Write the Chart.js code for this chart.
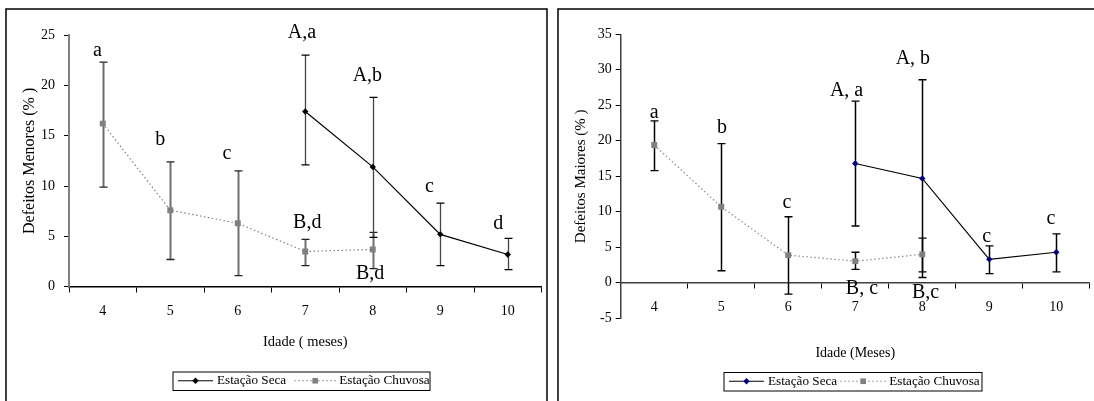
<!DOCTYPE html>
<html>
<head>
<meta charset="utf-8">
<script src="https://cdn.jsdelivr.net/npm/chart.js@4.4.1/dist/chart.umd.min.js"></script>
<style>
  html, body { margin: 0; padding: 0; background: #fff; }
  body { width: 1094px; height: 401px; position: relative; overflow: hidden; }
  canvas { position: absolute; top: 0; }
  #cMenores { left: 0; }
  #cMaiores { left: 552px; }
</style>
</head>
<body>
<canvas id="cMenores" width="552" height="401"></canvas>
<canvas id="cMaiores" width="542" height="401"></canvas>
<script>
const meses = ['4', '5', '6', '7', '8', '9', '10'];

// Defeitos menores (%) - media e barras de erro
const menoresChuvosa    = [16.2, 7.6, 6.3, 3.5, 3.7, null, null];
const menoresChuvosaMin = [9.9, 2.7, 1.1, 2.1, 1.8, null, null];
const menoresChuvosaMax = [22.3, 12.4, 11.5, 4.7, 5.4, null, null];
const menoresSeca       = [null, null, null, 17.4, 11.9, 5.2, 3.2];
const menoresSecaMin    = [null, null, null, 12.1, 4.9, 2.1, 1.7];
const menoresSecaMax    = [null, null, null, 23.0, 18.8, 8.3, 4.8];
const menoresLetrasChuvosa = ['a', 'b', 'c', 'B,d', 'B,d', null, null];
const menoresLetrasSeca    = [null, null, null, 'A,a', 'A,b', 'c', 'd'];
const menoresEixoY = [0, 25, 5];

// Defeitos maiores (%)
const maioresChuvosa    = [19.4, 10.7, 3.9, 3.05, 4.0, null, null];
const maioresChuvosaMin = [15.8, 1.7, -1.6, 1.9, 1.55, null, null];
const maioresChuvosaMax = [22.8, 19.6, 9.3, 4.3, 6.3, null, null];
const maioresSeca       = [null, null, null, 16.8, 14.7, 3.3, 4.3];
const maioresSecaMin    = [null, null, null, 8.0, 0.75, 1.3, 1.55];
const maioresSecaMax    = [null, null, null, 25.6, 28.6, 5.2, 6.9];
const maioresLetrasChuvosa = ['a', 'b', 'c', 'B, c', 'B,c', null, null];
const maioresLetrasSeca    = [null, null, null, 'A, a', 'A, b', 'c', 'c'];
const maioresEixoY = [-5, 35, 5];

// onde fica cada letra: altura (unidades do eixo y) e desvio em larguras de categoria
const posMenoresChuvosaY  = [23.4, 14.6, 13.25, 6.36, 1.33, null, null];
const posMenoresChuvosaDx = [-0.08, -0.15, -0.16, 0.03, -0.04, 0, 0];
const posMenoresSecaY     = [null, null, null, 25.2, 21.0, 9.93, 6.3];
const posMenoresSecaDx    = [0, 0, 0, -0.05, -0.08, -0.16, -0.14];
const posMaioresChuvosaY  = [23.9, 21.8, 11.3, -0.8, -1.36, null, null];
const posMaioresChuvosaDx = [0, 0.01, -0.02, 0.1, 0.05, 0, 0];
const posMaioresSecaY     = [null, null, null, 27.0, 31.55, 6.47, 9.05];
const posMaioresSecaDx    = [0, 0, 0, -0.13, -0.14, -0.04, -0.08];

const serif = "'Liberation Serif', 'Times New Roman', serif";
Chart.defaults.font.family = serif;

const moldura = {
  id: 'moldura',
  beforeDraw(chart, args, o) {
    const ctx = chart.ctx;
    ctx.save();
    ctx.fillStyle = '#fff';
    ctx.fillRect(0, 0, chart.width, chart.height);
    ctx.strokeStyle = '#000';
    ctx.lineWidth = 1.5;
    ctx.strokeRect(o.x, o.y, o.w, o.h);
    ctx.restore();
  }
};

const barrasErro = {
  id: 'barrasErro',
  beforeDatasetsDraw(chart, args, o) {
    const {ctx, scales: {x, y}} = chart;
    ctx.save();
    o.series.forEach(s => {
      s.min.forEach((lo, i) => {
        const hi = s.max[i];
        if (lo == null || hi == null) return;
        const px = Math.round(x.getPixelForValue(i)) + 0.5;
        const y1 = y.getPixelForValue(lo), y2 = y.getPixelForValue(hi);
        ctx.strokeStyle = s.cor;
        ctx.lineWidth = s.largura;
        ctx.beginPath(); ctx.moveTo(px, y1); ctx.lineTo(px, y2); ctx.stroke();
        ctx.strokeStyle = s.corPonta;
        ctx.lineWidth = 1.3;
        ctx.beginPath();
        ctx.moveTo(px - 4, y1); ctx.lineTo(px + 4, y1);
        ctx.moveTo(px - 4, y2); ctx.lineTo(px + 4, y2);
        ctx.stroke();
      });
    });
    ctx.restore();
  }
};

const letras = {
  id: 'letras',
  afterDatasetsDraw(chart, args, o) {
    const {ctx, scales: {x, y}} = chart;
    const cat = x.getPixelForValue(1) - x.getPixelForValue(0);
    ctx.save();
    ctx.font = '20px ' + serif;
    ctx.fillStyle = '#000';
    ctx.textAlign = 'center';
    ctx.textBaseline = 'middle';
    o.grupos.forEach(g => g.texto.forEach((t, i) => {
      if (!t) return;
      ctx.fillText(t, x.getPixelForValue(i) + g.dx[i] * cat, y.getPixelForValue(g.y[i]));
    }));
    ctx.restore();
  }
};

const legenda = {
  id: 'legenda',
  afterDraw(chart, args, o) {
    const ctx = chart.ctx;
    const [seca, chuvosa] = chart.data.datasets;
    const cy = o.y + o.h / 2;
    ctx.save();
    ctx.strokeStyle = '#000';
    ctx.lineWidth = 1;
    ctx.strokeRect(o.x + 0.5, o.y + 0.5, o.w, o.h);
    ctx.font = '13.2px ' + serif;
    ctx.textBaseline = 'middle';
    let px = o.x + 5.5;
    ctx.lineWidth = 1.2;
    ctx.beginPath(); ctx.moveTo(px, cy); ctx.lineTo(px + 35, cy); ctx.stroke();
    ctx.fillStyle = seca.pointBackgroundColor;
    Chart.helpers.drawPoint(ctx, {pointStyle: 'rectRot', radius: 3.2, rotation: 0, borderWidth: 0}, px + 17.5, cy);
    px += 39;
    ctx.fillStyle = '#000';
    ctx.fillText(seca.label, px, cy);
    px += ctx.measureText(seca.label).width + o.folga;
    ctx.strokeStyle = chuvosa.borderColor;
    ctx.setLineDash(chuvosa.borderDash);
    ctx.beginPath(); ctx.moveTo(px, cy); ctx.lineTo(px + o.tracejado, cy); ctx.stroke();
    ctx.setLineDash([]);
    ctx.fillStyle = chuvosa.pointBackgroundColor;
    Chart.helpers.drawPoint(ctx, {pointStyle: 'rect', radius: 4, rotation: 0, borderWidth: 0}, px + o.tracejado / 2, cy);
    px += o.tracejado + 3;
    ctx.fillStyle = '#000';
    ctx.fillText(chuvosa.label, px, cy);
    ctx.restore();
  }
};

function graficoDefeitos(id, c) {
  return new Chart(document.getElementById(id), {
    type: 'line',
    data: {
      labels: meses,
      datasets: [
        { label: 'Estação Seca', data: c.seca, borderColor: '#000', borderWidth: 1.2,
          pointStyle: 'rectRot', pointRadius: 3.2, pointBackgroundColor: c.corSeca, pointBorderWidth: 0 },
        { label: 'Estação Chuvosa', data: c.chuvosa, borderColor: c.corChuvosa, borderWidth: 1.2,
          borderDash: [1.5, 2.5], pointStyle: 'rect', pointRadius: 4.2,
          pointBackgroundColor: '#808080', pointBorderWidth: 0 }
      ]
    },
    options: {
      responsive: false, animation: false, events: [],
      layout: { padding: c.padding },
      plugins: {
        legend: { display: false },
        tooltip: { enabled: false },
        moldura: c.moldura,
        barrasErro: { series: c.barras },
        letras: { grupos: c.letras },
        legenda: c.legenda
      },
      scales: {
        x: {
          axis: 'x', type: 'category', offset: true, position: { y: 0 },
          grid: { drawOnChartArea: false, offset: true, tickLength: 5, tickColor: '#000', lineWidth: 1 },
          border: { color: c.corEixoX, width: 1.5 },
          ticks: { color: '#000', padding: 11.5, maxRotation: 0, font: { family: serif, size: 14 } },
          title: { display: true, text: c.tituloX, color: '#000', font: { family: serif, size: c.fonteTituloX }, padding: 0 },
          afterFit(s) { s.height = c.alturaX; }
        },
        y: {
          min: c.eixoY[0], max: c.eixoY[1],
          grid: { drawOnChartArea: false, tickLength: 5, tickColor: '#000', lineWidth: 1 },
          border: { color: c.corEixoY, width: c.larguraEixoY },
          ticks: { stepSize: c.eixoY[2], color: '#000', padding: c.padTicksY, font: { family: serif, size: 14 } },
          title: { display: true, text: c.tituloY, color: '#000', font: { family: serif, size: c.fonteTituloY },
                   padding: { top: c.padTituloY, bottom: 0 } },
          afterFit(s) { s.width = c.larguraY; }
        }
      }
    },
    plugins: [moldura, barrasErro, letras, legenda]
  });
}

graficoDefeitos('cMenores', {
  seca: menoresSeca, chuvosa: menoresChuvosa, eixoY: menoresEixoY,
  corSeca: '#000', corChuvosa: '#808080',
  corEixoX: '#000', corEixoY: '#808080', larguraEixoY: 2, padTicksY: 9,
  tituloX: 'Idade ( meses)', tituloY: 'Defeitos Menores (% )',
  fonteTituloX: 14.5, fonteTituloY: 16, padTituloY: 20.6,
  alturaX: 64.3, larguraY: 69,
  padding: { left: 0, top: 35, right: 10.5, bottom: 114.3 },
  moldura: { x: 6, y: 9, w: 541, h: 500 },
  legenda: { x: 172.5, y: 371.5, w: 257, h: 18.5, folga: 8, tracejado: 42 },
  barras: [
    { min: menoresChuvosaMin, max: menoresChuvosaMax, cor: '#6e6e6e', corPonta: '#222', largura: 2 },
    { min: menoresSecaMin, max: menoresSecaMax, cor: '#444', corPonta: '#000', largura: 1.3 }
  ],
  letras: [
    { texto: menoresLetrasChuvosa, y: posMenoresChuvosaY, dx: posMenoresChuvosaDx },
    { texto: menoresLetrasSeca, y: posMenoresSecaY, dx: posMenoresSecaDx }
  ]
});

graficoDefeitos('cMaiores', {
  seca: maioresSeca, chuvosa: maioresChuvosa, eixoY: maioresEixoY,
  corSeca: '#000080', corChuvosa: '#8c8c8c',
  corEixoX: '#404040', corEixoY: '#404040', larguraEixoY: 1.5, padTicksY: 4,
  tituloX: 'Idade (Meses)', tituloY: 'Defeitos Maiores (% )',
  fonteTituloX: 14, fonteTituloY: 15, padTituloY: 20.2,
  alturaX: 78.5, larguraY: 68.7,
  padding: { left: 0, top: 34.3, right: 1.5, bottom: 82.7 },
  moldura: { x: 6, y: 9, w: 1000, h: 500 },
  legenda: { x: 171.5, y: 372, w: 258, h: 18.5, folga: 3, tracejado: 46 },
  barras: [
    { min: maioresChuvosaMin, max: maioresChuvosaMax, cor: '#000', corPonta: '#000', largura: 1.5 },
    { min: maioresSecaMin, max: maioresSecaMax, cor: '#000', corPonta: '#000', largura: 1.5 }
  ],
  letras: [
    { texto: maioresLetrasChuvosa, y: posMaioresChuvosaY, dx: posMaioresChuvosaDx },
    { texto: maioresLetrasSeca, y: posMaioresSecaY, dx: posMaioresSecaDx }
  ]
});
</script>
</body>
</html>
